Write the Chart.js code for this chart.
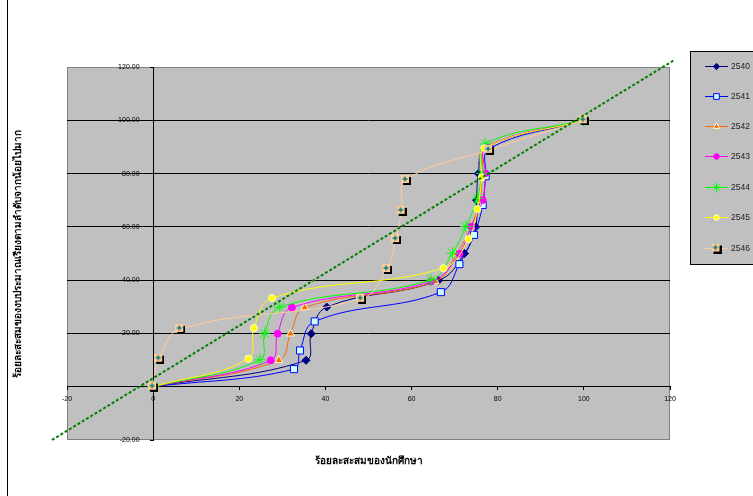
<!DOCTYPE html>
<html>
<head>
<meta charset="utf-8">
<script src="https://cdn.jsdelivr.net/npm/chart.js@4.4.1/dist/chart.umd.min.js"></script>
<style>body{margin:0;background:#fff}</style>
</head>
<body>
<canvas id="lorenzChart" width="753" height="496"></canvas>
<script>
// cumulative % of students (x) and cumulative % of budget (y), per year
var years = ['2540', '2541', '2542', '2543', '2544', '2545', '2546'];

var students2540 = [0, 35.5, 36.7, 40.3, 66.3, 72.3, 74.9, 75.1, 75.5, 77.2, 100];
var budget2540   = [0, 9.9, 19.9, 29.9, 39.9, 50, 60, 70, 80, 90, 100];
var students2541 = [0, 32.7, 34.1, 37.5, 66.8, 71.1, 74.5, 76.5, 77.2, 78, 100];
var budget2541   = [0, 6.6, 13.6, 24.5, 35.5, 46, 57, 68.2, 79, 89.3, 100];
var students2542 = [0, 29.2, 31.9, 35.2, 65.5, 70.5, 73.8, 75.8, 76.5, 77.5, 100];
var budget2542   = [0, 9.9, 19.9, 29.7, 39.5, 50, 60, 70, 80, 90, 100];
var students2543 = [0, 27.3, 28.9, 32.2, 64.5, 71.1, 73.8, 76.5, 77.1, 77.3, 100];
var budget2543   = [0, 9.9, 19.9, 29.7, 39.5, 49.9, 60.1, 70.1, 80.1, 90, 100];
var students2544 = [0, 24.8, 25.9, 29.4, 64.5, 69.5, 72.6, 75.3, 76.3, 77.1, 100];
var budget2544   = [0, 10.1, 20.1, 29.9, 40.1, 50.1, 60.1, 70.7, 80.1, 91.1, 100];
var students2545 = [0, 22.1, 23.4, 27.6, 67.4, 73.2, 75.3, 76.3, 76.9, 100];
var budget2545   = [0, 10.5, 22, 33.3, 44.5, 55.4, 66.7, 78.5, 89.5, 100];
var students2546 = [0, 1.4, 6.3, 48.3, 54.3, 56.4, 57.7, 58.7, 78, 100];
var budget2546   = [0, 10.5, 21.7, 33, 44.2, 55.4, 66, 77.6, 88.9, 100];

var equalityX = [-23.5, 121];
var equalityY = [-20, 122.6];

var xTicks = [-20, 0, 20, 40, 60, 80, 100, 120];
var yTicks = [-20, 0, 20, 40, 60, 80, 100, 120];

function pairUp(xs, ys) {
    return xs.map(function (v, i) { return { x: v, y: ys[i] }; });
}

// peach square with shadow and teal cross, like the 2546 marker
var plusBox = document.createElement('canvas');
plusBox.width = 10; plusBox.height = 10;
var pb = plusBox.getContext('2d');
pb.fillStyle = '#000';
pb.fillRect(2, 2, 8, 8);
pb.fillStyle = '#ffcc99';
pb.fillRect(0, 0, 8, 8);
pb.strokeStyle = '#008080';
pb.lineWidth = 1.5;
pb.beginPath();
pb.moveTo(1.5, 4); pb.lineTo(6.5, 4);
pb.moveTo(4, 1.5); pb.lineTo(4, 6.5);
pb.stroke();

var seriesX = [students2540, students2541, students2542, students2543, students2544, students2545, students2546];
var seriesY = [budget2540, budget2541, budget2542, budget2543, budget2544, budget2545, budget2546];
var lineColors = ['#000080', '#0000ff', '#ff6600', '#ff00ff', '#00ff00', '#ffff00', '#ffcc99'];
var fillColors = ['#000080', '#ccffff', '#ff6600', '#ff00ff', '#00ff00', '#ffff00', '#ffcc99'];
var edgeColors = ['#000080', '#0000ff', '#ffffcc', '#ff00ff', '#00ff00', '#ffffcc', '#ffcc99'];
var styles = ['rectRot', 'rect', 'triangle', 'circle', 'star', 'circle', plusBox];
var radii = [4, 5, 4.5, 3.5, 6, 3.5, 5];

var datasets = years.map(function (yr, i) {
    return {
        label: yr,
        data: pairUp(seriesX[i], seriesY[i]),
        showLine: true,
        tension: 0.4,
        borderColor: lineColors[i],
        borderWidth: 1,
        backgroundColor: fillColors[i],
        pointBorderColor: edgeColors[i],
        pointBackgroundColor: fillColors[i],
        pointBorderWidth: 1,
        pointStyle: styles[i],
        pointRadius: radii[i],
        order: 7 - i
    };
});

datasets.push({
    label: 'equality',
    data: pairUp(equalityX, equalityY),
    showLine: true,
    borderColor: '#008000',
    borderWidth: 2,
    borderDash: [3, 2],
    pointRadius: 0,
    clip: false,
    order: 0
});

var decor = {
    id: 'decor',
    beforeDraw: function (chart) {
        var c = chart.ctx, a = chart.chartArea;
        c.save();
        c.fillStyle = '#fff';
        c.fillRect(0, 0, chart.width, chart.height);
        c.fillStyle = '#c0c0c0';
        c.fillRect(a.left, a.top, a.right - a.left, a.bottom - a.top);
        c.strokeStyle = '#808080';
        c.lineWidth = 1;
        c.strokeRect(a.left + 0.5, a.top + 0.5, a.right - a.left - 1, a.bottom - a.top - 1);
        c.strokeStyle = '#000';
        c.beginPath();
        c.moveTo(7.5, 0); c.lineTo(7.5, chart.height);
        c.stroke();
        c.restore();
    },
    afterDraw: function (chart) {
        var c = chart.ctx, a = chart.chartArea;
        c.save();
        c.fillStyle = '#000';
        c.font = 'bold 10px Tahoma, "Noto Sans", sans-serif';
        c.textAlign = 'center';
        c.textBaseline = 'middle';
        c.fillText('ร้อยละสะสมของนักศึกษา', (a.left + a.right) / 2, 461);
        c.translate(18, (a.top + a.bottom) / 2);
        c.rotate(-Math.PI / 2);
        c.fillText('ร้อยละสะสมของงบประมาณเรียงตามลำดับจากน้อยไปมาก', 0, 0);
        c.restore();

        // legend box
        c.save();
        c.fillStyle = '#c0c0c0';
        c.fillRect(690, 51, 70, 213);
        c.strokeStyle = '#000';
        c.lineWidth = 1;
        c.strokeRect(690.5, 51.5, 70, 213);
        var rows = [66, 96, 126, 156, 187, 217, 248];
        c.font = '8.5px "Liberation Sans", Arial, sans-serif';
        c.textBaseline = 'middle';
        c.textAlign = 'left';
        for (var i = 0; i < years.length; i++) {
            var ds = chart.data.datasets[i];
            c.strokeStyle = ds.borderColor;
            c.lineWidth = 1;
            c.beginPath();
            c.moveTo(705, rows[i] + 0.5); c.lineTo(728, rows[i] + 0.5);
            c.stroke();
            c.fillStyle = ds.pointBackgroundColor;
            c.strokeStyle = ds.pointBorderColor;
            Chart.helpers.drawPoint(c, { pointStyle: ds.pointStyle, radius: ds.pointRadius * 0.8, rotation: 0, borderWidth: 1 }, 716.5, rows[i] + 0.5);
            c.fillStyle = '#222';
            c.fillText(ds.label, 731, rows[i] + 1);
        }
        c.restore();
    }
};

var ctx = document.getElementById('lorenzChart').getContext('2d');
var lorenzChart = new Chart(ctx, {
    type: 'scatter',
    data: { datasets: datasets },
    options: {
        responsive: false,
        animation: false,
        layout: { padding: { left: 67, right: 83, top: 67, bottom: 56 } },
        plugins: { legend: { display: false }, tooltip: { enabled: false } },
        scales: {
            x: {
                type: 'linear',
                position: { y: 0 },
                min: -20, max: 120,
                afterBuildTicks: function (s) { s.ticks = xTicks.map(function (v) { return { value: v }; }); },
                ticks: { color: '#000', font: { size: 7, family: '"Liberation Sans", Arial' }, padding: 5, maxRotation: 0 },
                grid: { drawOnChartArea: false, drawTicks: true, tickLength: 3, tickColor: '#000' },
                border: { display: true, color: '#000', width: 1 }
            },
            y: {
                type: 'linear',
                position: { x: 0 },
                min: -20, max: 120,
                afterBuildTicks: function (s) { s.ticks = yTicks.map(function (v) { return { value: v }; }); },
                ticks: {
                    color: '#000',
                    font: { size: 7, family: '"Liberation Sans", Arial' },
                    callback: function (v) { return v === 0 ? '' : v.toFixed(2) + '       '; }
                },
                grid: {
                    color: function (g) { return (g.tick && (g.tick.value === 120 || g.tick.value === -20)) ? 'rgba(0,0,0,0)' : '#000'; },
                    lineWidth: 1,
                    drawTicks: true, tickLength: 3, tickColor: '#000'
                },
                border: { display: true, color: '#000', width: 1 }
            }
        }
    },
    plugins: [decor]
});
</script>
</body>
</html>
